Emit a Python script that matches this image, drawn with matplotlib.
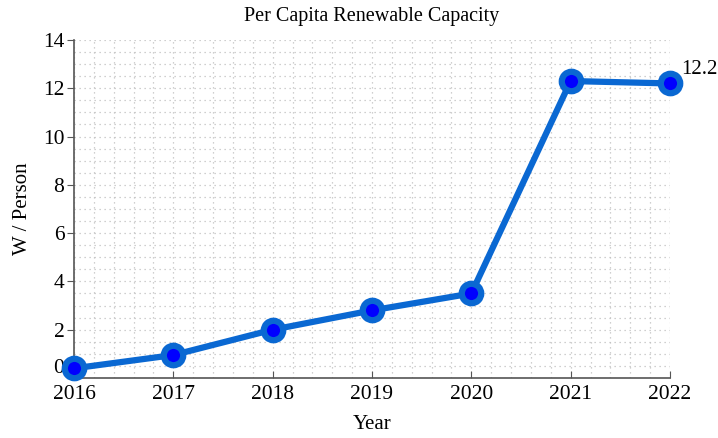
import numpy as np
import matplotlib.pyplot as plt
from matplotlib.ticker import MultipleLocator

years = [2016, 2017, 2018, 2019, 2020, 2021, 2022]
w_per_person = [0.4, 0.95, 2.0, 2.8, 3.5, 12.3, 12.2]

plt.rcParams['font.family'] = ['Liberation Serif', 'DejaVu Serif']

fig = plt.figure(figsize=(7.18, 4.38), dpi=100)
ax = fig.add_axes([0.1031, 0.137, 0.83, 0.7717])

ax.plot(years, w_per_person, color='#0a68d2', lw=4.5, marker='o', ms=14,
        mfc='#0000ff', mec='#0a68d2', mew=4.5, clip_on=False, zorder=3)

ax.annotate(f'{w_per_person[-1]:.1f}', (years[-1], w_per_person[-1]),
            xytext=(8, 3), textcoords='offset points', fontsize=15,
            va='bottom', ha='left')

ax.set_xlim(2016, 2022)
ax.set_ylim(0, 14)
ax.set_xticks(years)
ax.set_yticks(np.arange(0, 15, 2))
ax.xaxis.set_minor_locator(MultipleLocator(0.2))
ax.yaxis.set_minor_locator(MultipleLocator(0.5))
ax.grid(which='both', color='#c0c0c0', linestyle=(0, (1, 3)), linewidth=0.9)
ax.set_axisbelow(True)

for s in ['top', 'right']:
    ax.spines[s].set_visible(False)
for s in ['left', 'bottom']:
    ax.spines[s].set_color('#555555')
    ax.spines[s].set_linewidth(1.2)

ax.tick_params(axis='x', which='major', direction='in', length=5, labelsize=15.5, pad=5, color='#555555')
ax.tick_params(axis='y', which='major', direction='out', length=5, labelsize=15.5, pad=2, color='#555555')
ax.tick_params(which='minor', length=0)

# the "0" sits just above the x axis like in the original
fig.canvas.draw()
ax.get_yticklabels()[0].set_va('bottom')

ax.set_title('Per Capita Renewable Capacity', fontsize=14.5, pad=14)
ax.set_xlabel('Year', fontsize=15, labelpad=8)
ax.set_ylabel('W / Person', fontsize=15, labelpad=8)

fig.savefig('out.png', dpi=100)
